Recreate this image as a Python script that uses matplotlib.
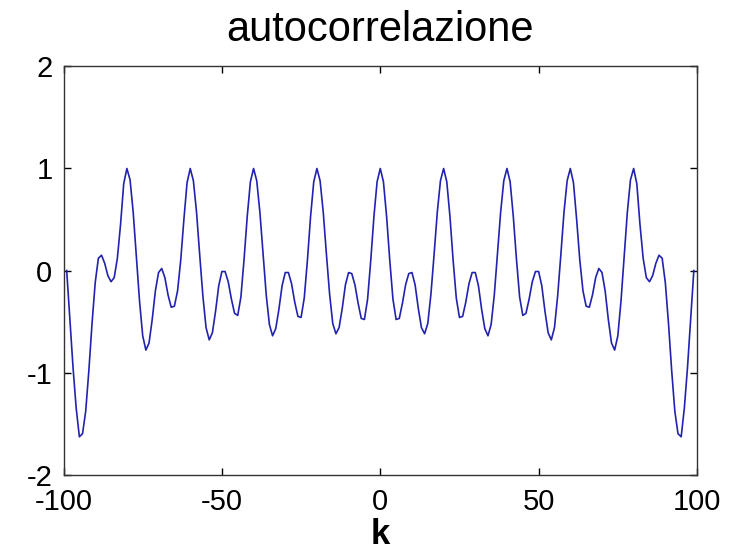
import numpy as np
import matplotlib
matplotlib.use('Agg')
import matplotlib.pyplot as plt

r_pos = [1.00, 0.87, 0.53, 0.10, -0.28, -0.48, -0.47, -0.32, -0.14, -0.03,
         -0.02, -0.14, -0.37, -0.56, -0.62, -0.52, -0.23, 0.16, 0.57, 0.88,
         1.00, 0.87, 0.53, 0.10, -0.27, -0.46, -0.45, -0.31, -0.13, -0.02,
         -0.02, -0.15, -0.38, -0.57, -0.64, -0.53, -0.24, 0.16, 0.57, 0.88,
         1.00, 0.87, 0.53, 0.11, -0.26, -0.44, -0.42, -0.28, -0.11, -0.01,
         -0.01, -0.15, -0.40, -0.61, -0.68, -0.56, -0.25, 0.15, 0.57, 0.88,
         1.00, 0.86, 0.50, 0.10, -0.20, -0.35, -0.36, -0.24, -0.07, 0.02,
         -0.02, -0.20, -0.48, -0.71, -0.78, -0.64, -0.30, 0.13, 0.57, 0.89,
         1.00, 0.85, 0.45, 0.12, -0.07, -0.11, -0.05, 0.07, 0.15, 0.12,
         -0.12, -0.52, -0.98, -1.38, -1.60, -1.63, -1.35, -0.95, -0.48, 0.00]

k_pos = list(range(0, 100))
k = [-v for v in k_pos[:0:-1]] + k_pos
r = r_pos[:0:-1] + r_pos

xticks = [-100, -50, 0, 50, 100]
yticks = [-2, -1, 0, 1, 2]

plt.rcParams['font.family'] = ['Liberation Sans', 'DejaVu Sans']
plt.rcParams['axes.unicode_minus'] = False

fig = plt.figure(figsize=(7.31, 5.55), dpi=100)
ax = fig.add_axes([0.0869, 0.145, 0.8666, 0.7352])
ax.plot(k, r, color='#2222b0', lw=1.2)

ax.set_xlim(-100, 100)
ax.set_ylim(-2, 2)
ax.set_xticks(xticks)
ax.set_yticks(yticks)
ax.set_xticklabels([str(v) for v in xticks])
ax.set_yticklabels([str(v) for v in yticks])
ax.tick_params(direction='in', length=5, width=1, labelsize=21,
               top=True, right=True)
ax.tick_params(axis='x', pad=10)
ax.tick_params(axis='y', pad=8)
for s in ax.spines.values():
    s.set_linewidth(1)
    s.set_color('#333333')

ax.set_title('autocorrelazione', fontsize=30, pad=18)
ax.set_xlabel('k', fontsize=25, fontweight='bold', labelpad=1)

fig.savefig('out.png', dpi=100)
